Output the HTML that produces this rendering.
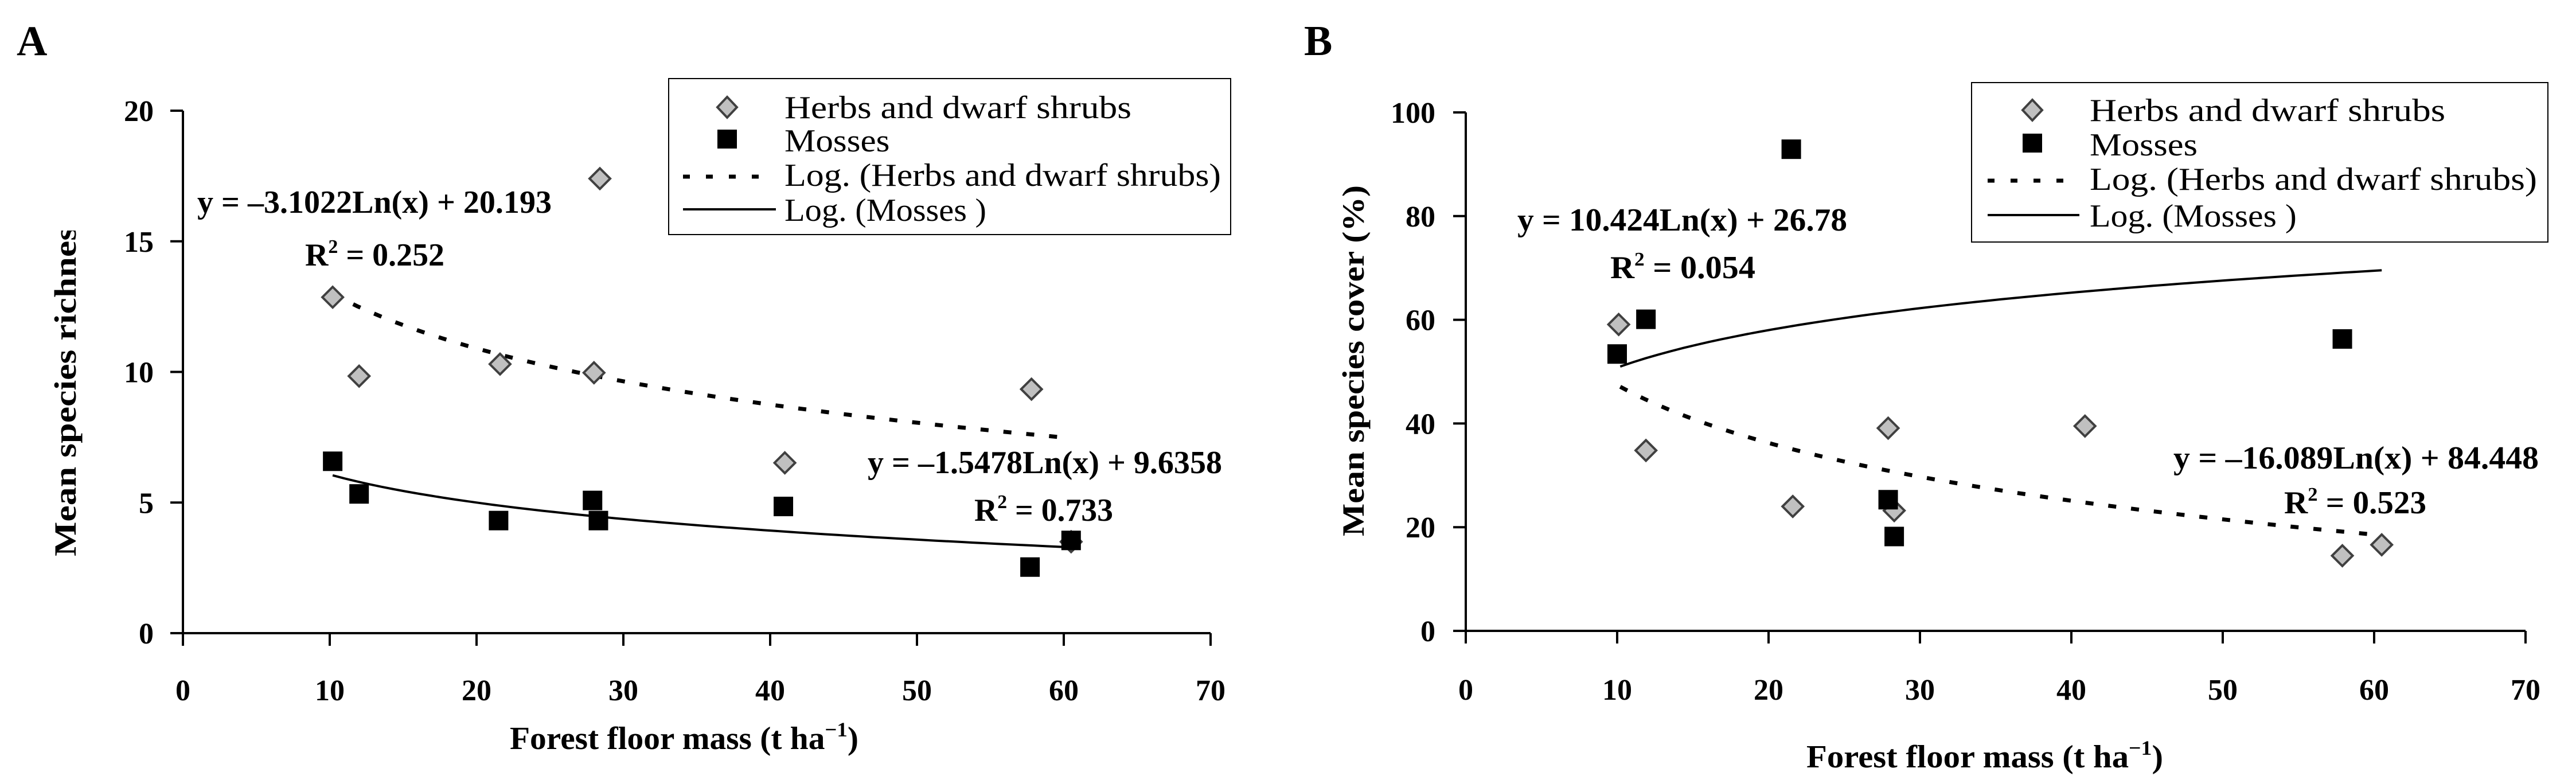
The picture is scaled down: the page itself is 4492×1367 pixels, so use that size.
<!DOCTYPE html>
<html><head><meta charset="utf-8"><title>Species richness and cover vs forest floor mass</title>
<style>
html,body{margin:0;padding:0;background:#fff;}
svg{display:block;}
text{font-family:"Liberation Serif",serif;fill:#000;}
</style></head>
<body>
<svg id="fig" width="4492" height="1367" viewBox="0 0 4492 1367" xmlns="http://www.w3.org/2000/svg">
<defs>
<clipPath id="clipYA"><rect x="0" y="402" width="300" height="900"/></clipPath>
</defs>
<rect x="0" y="0" width="4492" height="1367" fill="#fff"/>
<g id="panelA"></g>
<g id="panelB"></g>
</svg>
<script>
// ---- data ----
const xTickLabels = [0, 10, 20, 30, 40, 50, 60, 70];
const yTickLabelsA = [0, 5, 10, 15, 20];
const yTickLabelsB = [0, 20, 40, 60, 80, 100];

const herbsAX = [10.2, 12.0, 21.6, 28.0, 28.4, 41.0, 57.8, 60.5];
const herbsAY = [12.86, 9.84, 10.3, 9.97, 17.4, 6.52, 9.34, 3.5];
const mossesAX = [10.2, 12.0, 21.5, 27.9, 28.3, 40.9, 57.7, 60.5];
const mossesAY = [6.58, 5.33, 4.31, 5.08, 4.31, 4.85, 2.53, 3.55];

const herbsBX = [10.1, 11.9, 21.6, 27.9, 28.3, 40.9, 57.9, 60.5];
const herbsBY = [59.1, 34.8, 24.0, 39.1, 23.2, 39.5, 14.5, 16.6];
const mossesBX = [10.0, 11.9, 21.5, 27.9, 28.3, 57.9];
const mossesBY = [53.4, 60.1, 92.9, 25.3, 18.2, 56.3];

// log trend coefficients [slope, intercept] and x range
const trendHerbsA = [-3.1022, 20.193];
const trendMossesA = [-1.5478, 9.6358];
const trendHerbsB = [-16.089, 84.448];
const trendMossesB = [10.424, 26.78];
const trendRange = [10.2, 60.5];

// ---- rendering ----
const NS = "http://www.w3.org/2000/svg";
function mk(tag, attrs, parent){
  const e = document.createElementNS(NS, tag);
  for (const k in attrs) e.setAttribute(k, attrs[k]);
  parent.appendChild(e);
  return e;
}
function txt(parent, x, y, s, size, weight, anchor, len){
  const t = mk("text", {x:x, y:y, "font-size":size, "font-weight":weight, "text-anchor":anchor}, parent);
  if (len) { t.setAttribute("textLength", len); t.setAttribute("lengthAdjust", "spacingAndGlyphs"); }
  t.textContent = s;
  return t;
}
function r2(parent, x, y, val, len){
  const t = mk("text", {x:x, y:y, "font-size":56, "font-weight":"bold", textLength:len, lengthAdjust:"spacingAndGlyphs"}, parent);
  const a = mk("tspan", {}, t); a.textContent = "R";
  const b = mk("tspan", {dy:-22, "font-size":34}, t); b.textContent = "2";
  const c = mk("tspan", {dy:22}, t); c.textContent = " = " + val;
  return t;
}

function drawPanel(g, ax, yTicks, herbsX, herbsY, mossX, mossY, tHerbs, tMoss){
  const sx = v => ax.x0 + (v / 70) * (ax.x1 - ax.x0);
  const sy = v => ax.y0 - (v / ax.ymax) * (ax.y0 - ax.y1);

  const yAxis = mk("line", {x1:ax.x0, y1:ax.y1, x2:ax.x0, y2:ax.y0+22, stroke:"#000", "stroke-width":4}, g);
  
  
  const xAxis = mk("line", {x1:ax.x0-22, y1:ax.y0, x2:ax.x1, y2:ax.y0, stroke:"#000", "stroke-width":4}, g);
  
  

  xTickLabels.forEach(v => {
    const x = sx(v);
    const tk = mk("line", {x1:x, y1:ax.y0, x2:x, y2:ax.y0+22, stroke:"#000", "stroke-width":4}, g);
    
    
    const lb = txt(g, x, ax.xLabelY, String(v), 52, "bold", "middle");
    
    
  });
  yTicks.forEach(v => {
    const y = sy(v);
    const tk = mk("line", {x1:ax.x0-22, y1:y, x2:ax.x0, y2:y, stroke:"#000", "stroke-width":4}, g);
    
    
    const lb = txt(g, ax.yLabelX, y + 18, String(v), 52, "bold", "end");
    
    
  });

  function trendPts(c){
    const pts = [];
    for (let i = 0; i <= 60; i++){
      const x = trendRange[0] + (trendRange[1] - trendRange[0]) * i / 60;
      pts.push(sx(x).toFixed(1) + "," + sy(c[0] * Math.log(x) + c[1]).toFixed(1));
    }
    return pts.join(" ");
  }
  const tl1 = mk("polyline", {points:trendPts(tHerbs), fill:"none", stroke:"#000", "stroke-width":7, "stroke-dasharray":"14 26"}, g);
  
  
  const tl2 = mk("polyline", {points:trendPts(tMoss), fill:"none", stroke:"#000", "stroke-width":4}, g);
  
  

  herbsX.forEach((xv, i) => {
    const cx = sx(xv), cy = sy(herbsY[i]);
    const d = mk("polygon", {points:`${cx},${cy-18} ${cx+18},${cy} ${cx},${cy+18} ${cx-18},${cy}`, fill:"#c0c0c0", stroke:"#404040", "stroke-width":4}, g);
    
    
  });
  mossX.forEach((xv, i) => {
    const cx = sx(xv), cy = sy(mossY[i]);
    const s = mk("rect", {x:cx-17, y:cy-17, width:34, height:34, fill:"#000"}, g);
    
    
  });
}

function drawLegend(g, L){
  const box = mk("rect", {x:L.x, y:L.y, width:L.w, height:L.h, fill:"#fff", stroke:"#000", "stroke-width":2}, g);
  
  
  const mx = L.mx, tx = L.tx;
  const d = mk("polygon", {points:`${mx},${L.b[0]-37} ${mx+17},${L.b[0]-19} ${mx},${L.b[0]-1} ${mx-17},${L.b[0]-19}`, fill:"#c0c0c0", stroke:"#404040", "stroke-width":4}, g);
  
  
  const s = mk("rect", {x:mx-17, y:L.b[1]-38, width:34, height:33, fill:"#000"}, g);
  
  
  const l1 = mk("line", {x1:L.lx0, y1:L.b[2]-16, x2:L.lx1-24, y2:L.b[2]-16, stroke:"#000", "stroke-width":7, "stroke-dasharray":"12 28"}, g);
  
  
  const l2 = mk("line", {x1:L.lx0, y1:L.b[3]-20, x2:L.lx1, y2:L.b[3]-20, stroke:"#000", "stroke-width":4}, g);
  
  
  const labels = ["Herbs and dwarf shrubs", "Mosses", "Log. (Herbs and dwarf shrubs)", "Log. (Mosses )"];
  const lens = [L.tw*0.795, L.tw*0.241, L.tw, L.tw*0.4625];
  labels.forEach((s2, i) => {
    const t = txt(g, tx, L.b[i], s2, 56, "normal", "start", lens[i]);
    
    
  });
}

// ---- Panel A ----
const gA = document.getElementById("panelA");
const axA = {x0:319, x1:2111, y0:1104, y1:193, ymax:20, xLabelY:1221, yLabelX:268};
drawPanel(gA, axA, yTickLabelsA, herbsAX, herbsAY, mossesAX, mossesAY, trendHerbsA, trendMossesA);
drawLegend(gA, {x:1166, y:137, w:980, h:272, mx:1268, tx:1368, lx0:1191, lx1:1353, tw:761, b:[206, 264, 324, 385]});

let t;
t = txt(gA, 29, 96, "A", 74, "bold", "start");


t = txt(gA, 344, 371, "y = –3.1022Ln(x) + 20.193", 56, "bold", "start", 618);


t = r2(gA, 532, 463, "0.252", 243);


t = txt(gA, 1513, 825, "y = –1.5478Ln(x) + 9.6358", 56, "bold", "start", 618);


t = r2(gA, 1699, 908, "0.733", 242);


t = mk("text", {x:889, y:1306, "font-size":56, "font-weight":"bold", textLength:608, lengthAdjust:"spacingAndGlyphs"}, gA);
t.innerHTML = 'Forest floor mass (t ha<tspan dy="-22" font-size="36">−1</tspan><tspan dy="22">)</tspan>';


const ytA = mk("g", {"clip-path":"url(#clipYA)"}, gA);


t = txt(ytA, 0, 0, "Mean species richness", 54, "bold", "start", 600);
t.setAttribute("transform", "translate(132,970) rotate(-90)");



// ---- Panel B ----
const gB = document.getElementById("panelB");
const axB = {x0:2556, x1:4404, y0:1100, y1:196, ymax:100, xLabelY:1220, yLabelX:2503};
drawPanel(gB, axB, yTickLabelsB, herbsBX, herbsBY, mossesBX, mossesBY, trendHerbsB, trendMossesB);
drawLegend(gB, {x:3438, y:144, w:1005, h:278, mx:3544, tx:3644, lx0:3466, lx1:3626, tw:780, b:[211, 271, 331, 395]});

t = txt(gB, 2274, 96, "B", 74, "bold", "start");


t = txt(gB, 2646, 402, "y = 10.424Ln(x) + 26.78", 56, "bold", "start", 575);


t = r2(gB, 2808, 485, "0.054", 253);


t = txt(gB, 3790, 817, "y = –16.089Ln(x) + 84.448", 56, "bold", "start", 637);


t = r2(gB, 3983, 895, "0.523", 248);


t = mk("text", {x:3150, y:1338, "font-size":56, "font-weight":"bold", textLength:622, lengthAdjust:"spacingAndGlyphs"}, gB);
t.innerHTML = 'Forest floor mass (t ha<tspan dy="-22" font-size="36">−1</tspan><tspan dy="22">)</tspan>';


t = txt(gB, 0, 0, "Mean species cover (%)", 54, "bold", "start", 612);
t.setAttribute("transform", "translate(2378,935) rotate(-90)");


</script>
</body></html>
